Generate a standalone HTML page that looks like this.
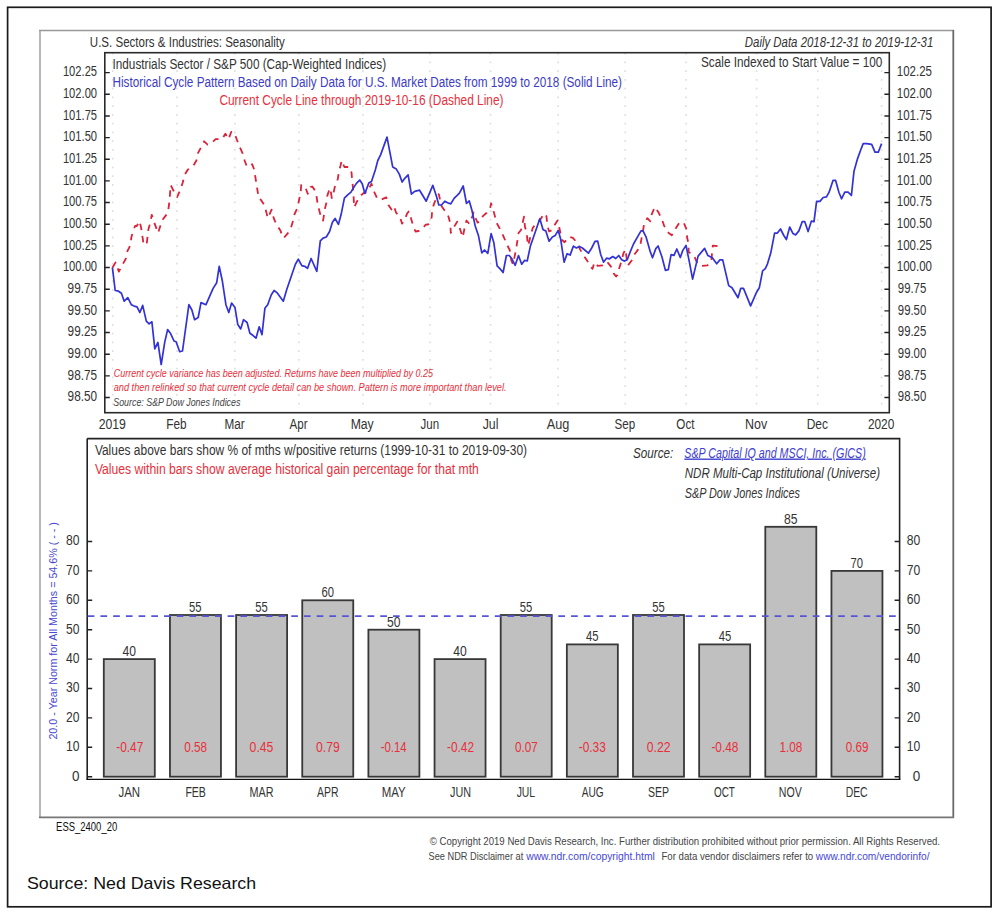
<!DOCTYPE html>
<html><head><meta charset="utf-8"><style>
html,body{margin:0;padding:0;background:#fff;}
svg{display:block;}
text{font-family:"Liberation Sans", sans-serif;}
</style></head><body>
<svg width="1002" height="914" viewBox="0 0 1002 914">
<rect width="1002" height="914" fill="#fff"/>
<rect x="7.6" y="7.3" width="983.5" height="899.5" fill="none" stroke="#1a1a1a" stroke-width="1.7"/>
<line x1="40" y1="30" x2="40" y2="818" stroke="#b8b8b8" stroke-width="2"/>
<line x1="39" y1="30.6" x2="954" y2="30.6" stroke="#999" stroke-width="1.5"/>
<line x1="953.3" y1="30" x2="953.3" y2="818" stroke="#6a6a6a" stroke-width="1.8"/>
<line x1="39" y1="817.4" x2="954" y2="817.4" stroke="#777" stroke-width="1.8"/>
<line x1="112.7" y1="52.8" x2="112.7" y2="411" stroke="#dedede" stroke-width="1.6" stroke-dasharray="1.6 7.15"/>
<line x1="177.0" y1="52.8" x2="177.0" y2="411" stroke="#dedede" stroke-width="1.6" stroke-dasharray="1.6 7.15"/>
<line x1="234.8" y1="52.8" x2="234.8" y2="411" stroke="#dedede" stroke-width="1.6" stroke-dasharray="1.6 7.15"/>
<line x1="298.8" y1="52.8" x2="298.8" y2="411" stroke="#dedede" stroke-width="1.6" stroke-dasharray="1.6 7.15"/>
<line x1="362.9" y1="52.8" x2="362.9" y2="411" stroke="#dedede" stroke-width="1.6" stroke-dasharray="1.6 7.15"/>
<line x1="430.0" y1="52.8" x2="430.0" y2="411" stroke="#dedede" stroke-width="1.6" stroke-dasharray="1.6 7.15"/>
<line x1="490.6" y1="52.8" x2="490.6" y2="411" stroke="#dedede" stroke-width="1.6" stroke-dasharray="1.6 7.15"/>
<line x1="558.1" y1="52.8" x2="558.1" y2="411" stroke="#dedede" stroke-width="1.6" stroke-dasharray="1.6 7.15"/>
<line x1="625.2" y1="52.8" x2="625.2" y2="411" stroke="#dedede" stroke-width="1.6" stroke-dasharray="1.6 7.15"/>
<line x1="686.0" y1="52.8" x2="686.0" y2="411" stroke="#dedede" stroke-width="1.6" stroke-dasharray="1.6 7.15"/>
<line x1="756.6" y1="52.8" x2="756.6" y2="411" stroke="#dedede" stroke-width="1.6" stroke-dasharray="1.6 7.15"/>
<line x1="817.7" y1="52.8" x2="817.7" y2="411" stroke="#dedede" stroke-width="1.6" stroke-dasharray="1.6 7.15"/>
<line x1="881.6" y1="52.8" x2="881.6" y2="411" stroke="#dedede" stroke-width="1.6" stroke-dasharray="1.6 7.15"/>
<rect x="104.8" y="52.7" width="784.5" height="360.0" fill="none" stroke="#2a2a2a" stroke-width="1.6"/>
<path d="M104.9 72.61H109.8M889.3 72.61H884.4M104.9 94.27H109.8M889.3 94.27H884.4M104.9 115.93H109.8M889.3 115.93H884.4M104.9 137.59H109.8M889.3 137.59H884.4M104.9 159.25H109.8M889.3 159.25H884.4M104.9 180.91H109.8M889.3 180.91H884.4M104.9 202.57H109.8M889.3 202.57H884.4M104.9 224.23H109.8M889.3 224.23H884.4M104.9 245.89H109.8M889.3 245.89H884.4M104.9 267.55H109.8M889.3 267.55H884.4M104.9 289.21H109.8M889.3 289.21H884.4M104.9 310.87H109.8M889.3 310.87H884.4M104.9 332.53H109.8M889.3 332.53H884.4M104.9 354.19H109.8M889.3 354.19H884.4M104.9 375.85H109.8M889.3 375.85H884.4M104.9 397.51H109.8M889.3 397.51H884.4" stroke="#222" stroke-width="1.4" fill="none"/>
<polyline points="112.4,267.7 115.6,262.4 118.9,271.6 123.0,263.7 125.8,258.8 127.4,251.1 130.7,244.6 131.3,237.4 133.4,230.3 135.1,226.0 136.7,226.0 137.8,224.3 139.5,221.0 141.1,227.6 143.3,242.4 146.6,245.1 148.2,230.3 149.9,223.8 151.8,214.8 153.1,219.4 158.1,233.1 160.3,226.0 162.4,220.0 165.7,215.6 167.9,212.8 169.6,200.2 170.6,184.9 174.5,192.6 177.2,197.0 180.5,189.3 182.7,182.7 184.4,175.3 187.7,169.8 193.4,165.6 196.4,160.5 198.1,152.8 201.3,146.8 204.1,141.3 207.6,144.6 211.7,143.0 215.6,139.1 222.1,139.1 225.4,133.7 228.5,139.3 231.3,131.8 234.2,132.6 236.9,139.7 239.6,146.8 242.4,152.8 244.6,160.5 246.9,166.8 252.2,164.3 254.4,170.3 255.5,178.0 257.1,188.0 258.8,198.8 261.0,199.9 264.2,204.8 266.4,212.4 267.7,218.2 269.2,215.2 271.6,209.6 273.8,218.4 276.6,224.9 280.4,230.4 282.6,237.0 283.7,238.0 287.5,233.7 290.8,228.2 293.0,221.1 294.6,214.0 297.4,208.0 299.0,200.3 300.6,193.2 301.2,185.0 303.5,185.8 305.6,187.7 307.7,193.8 310.5,187.2 312.2,186.5 314.3,189.4 316.5,196.0 317.6,203.6 319.2,210.2 321.4,218.4 323.1,220.6 324.7,209.6 326.3,203.1 327.4,195.4 329.6,188.8 330.3,188.3 331.8,198.1 333.5,193.2 335.1,185.6 337.8,179.0 338.9,171.9 340.6,165.3 341.7,160.4 344.4,167.0 349.3,167.0 351.5,172.4 352.3,181.7 353.2,190.0 354.2,207.4 357.0,201.4 361.1,195.2 364.4,192.4 366.5,192.5 369.3,188.1 371.5,183.7 374.2,191.9 377.0,197.9 379.0,199.8 381.3,199.5 386.3,197.4 388.4,205.0 391.5,209.6 393.9,206.1 396.1,212.7 399.9,217.0 402.1,223.6 404.3,220.3 407.0,213.8 408.7,211.4 410.9,218.1 413.1,225.8 415.5,231.5 418.5,231.0 421.8,229.6 425.6,224.7 428.0,224.5 430.0,223.6 431.7,217.0 432.2,209.4 434.4,202.8 437.1,196.3 438.8,194.1 441.5,206.1 444.2,209.9 446.5,212.0 448.6,217.0 450.3,223.6 450.8,232.9 453.5,227.4 455.5,224.5 457.2,221.6 459.4,227.0 462.7,237.4 464.8,227.0 466.5,220.5 469.2,223.8 472.5,216.1 473.6,212.3 475.2,217.2 477.5,222.5 479.6,222.1 482.9,216.1 486.7,212.8 490.0,209.0 491.1,203.5 493.3,210.1 495.5,218.3 497.1,223.8 501.0,230.9 503.7,236.9 507.0,244.6 509.7,250.0 511.3,260.4 513.0,264.2 514.6,256.6 516.3,248.0 517.9,237.4 518.5,233.0 521.0,230.0 524.0,216.7 525.0,227.0 526.7,232.5 527.5,241.3 528.3,245.6 530.5,236.0 532.7,228.1 534.9,224.9 540.0,220.0 544.2,213.4 546.4,216.1 547.5,226.0 549.1,231.4 551.8,230.3 554.0,226.0 557.5,220.5 558.9,225.4 561.7,239.7 564.6,242.2 568.8,236.8 572.9,237.9 577.2,242.8 580.2,249.6 583.5,255.4 587.4,261.1 590.6,266.6 592.5,268.8 594.5,262.2 597.7,265.8 602.6,265.4 607.2,261.8 610.8,266.4 613.8,273.6 616.1,276.5 617.4,274.9 619.4,267.7 621.7,260.5 623.3,253.6 625.6,249.3 626.9,260.5 627.9,265.4 631.5,260.8 633.8,255.2 637.7,250.1 640.4,244.8 641.9,236.3 642.7,232.5 644.2,223.3 647.3,218.2 650.3,221.4 651.8,214.1 654.9,206.9 658.4,212.2 661.8,219.1 664.1,225.6 667.5,232.1 671.8,235.2 676.0,227.9 679.4,222.6 681.7,221.8 684.0,223.3 686.7,229.8 687.1,237.5 688.6,244.0 688.6,252.0 694.0,255.5 697.5,263.8 700.8,266.0 707.4,265.4 711.2,261.6 712.8,245.7 718.3,246.3 720.5,247.9 722.1,246.3" fill="none" stroke="#dc2238" stroke-width="1.8" stroke-dasharray="6.5 6" stroke-linejoin="round"/>
<polyline points="112.4,267.7 115.2,290.5 118.5,291.2 121.4,293.3 124.2,301.2 127.8,297.6 131.3,304.7 134.2,306.1 137.0,306.9 139.9,312.5 142.7,305.4 146.3,321.1 149.1,323.9 151.9,321.8 154.8,348.8 157.9,342.4 161.2,364.5 164.7,342.4 167.6,329.6 170.4,333.2 174.0,341.0 176.1,341.7 179.7,351.7 182.5,351.0 188.9,304.7 191.8,309.7 194.6,319.7 198.2,317.5 201.0,302.6 206.0,304.7 213.1,288.4 216.7,282.7 219.2,266.3 222.4,281.3 225.9,304.7 228.8,312.5 231.6,303.0 235.0,307.6 237.8,324.6 240.7,328.9 243.5,319.7 247.1,322.5 249.9,333.2 252.8,335.3 256.0,338.2 259.2,326.8 262.0,334.6 264.9,308.3 267.7,304.7 271.3,294.8 274.1,290.5 276.9,292.6 283.3,301.2 286.9,289.1 295.4,264.2 298.3,259.2 301.8,265.6 304.7,266.3 307.5,268.4 311.1,258.5 316.8,271.3 320.3,240.8 323.1,238.1 326.3,237.0 329.6,231.5 332.4,222.2 335.1,218.4 338.4,224.4 341.1,214.6 344.4,198.1 347.7,194.9 351.0,192.1 353.2,188.3 356.4,183.4 359.7,180.1 362.2,183.7 364.9,193.5 368.8,183.1 371.5,181.5 375.3,170.0 377.8,160.5 380.6,154.9 387.0,137.1 392.7,166.9 396.3,169.1 399.4,174.4 402.1,182.0 404.8,178.3 408.1,174.9 411.4,194.1 414.7,191.3 419.6,190.2 426.2,201.2 432.8,185.3 436.6,196.8 438.8,205.0 441.5,205.0 444.8,201.2 447.5,202.8 450.8,203.9 454.1,198.4 457.4,195.2 459.4,193.1 463.2,186.0 466.5,203.5 469.2,200.8 472.0,210.6 475.2,226.0 478.5,235.8 481.8,252.8 484.5,250.0 487.8,253.3 491.1,233.6 493.8,242.4 497.1,265.9 499.9,268.6 503.1,272.5 506.4,255.5 509.2,255.5 511.9,258.8 515.2,265.3 518.5,255.5 521.7,264.2 524.5,260.4 527.2,261.0 530.5,245.6 533.2,238.0 539.8,218.8 543.1,229.8 545.8,230.9 549.1,241.3 552.4,236.9 555.3,235.4 558.2,230.4 560.6,238.7 564.1,262.2 567.1,253.7 570.1,255.1 573.4,246.1 576.4,248.0 579.4,246.6 582.4,248.0 588.4,253.2 591.7,248.0 595.0,241.4 597.7,241.1 600.7,254.5 603.6,262.1 606.6,258.2 609.5,258.8 612.8,256.5 615.8,258.5 618.7,255.5 621.7,259.8 624.6,261.1 627.2,259.8 630.2,251.9 633.5,244.0 637.4,237.1 641.0,230.9 643.0,230.9 646.0,236.8 649.9,250.6 652.5,257.8 655.8,248.6 658.1,246.0 661.9,256.8 665.4,270.3 668.3,269.6 671.1,254.7 674.0,255.4 676.8,249.0 680.3,257.5 682.7,250.6 686.0,245.4 689.3,261.6 692.6,279.1 698.1,256.1 704.6,248.4 707.9,255.6 712.3,257.7 716.7,263.8 719.9,259.9 722.7,259.9 728.7,285.6 732.0,287.8 738.0,297.7 740.7,288.4 743.5,288.4 750.6,305.9 756.6,292.2 759.3,287.8 762.6,270.9 765.3,268.7 767.5,263.8 770.8,252.8 774.6,233.1 777.4,233.1 780.5,229.0 783.8,235.5 786.4,239.5 789.7,227.0 793.0,233.6 795.6,234.9 798.9,230.9 802.2,221.7 804.8,221.7 808.1,231.6 811.4,221.1 814.0,221.7 816.6,201.4 819.9,201.4 823.2,197.5 826.5,196.8 829.1,192.2 833.0,180.4 835.6,180.4 838.9,192.2 841.5,198.8 844.8,192.2 848.1,192.2 851.4,195.5 854.0,171.2 857.3,159.4 860.6,150.2 863.2,143.6 866.5,143.6 871.7,144.3 875.0,152.2 878.3,152.2 881.6,143.6" fill="none" stroke="#3232d6" stroke-width="1.7" stroke-linejoin="round"/>
<path d="M87.2 438.6H899.6V779.4M87.2 438.6V779.4" fill="none" stroke="#222" stroke-width="1.6"/>
<line x1="86.4" y1="779.4" x2="900.4" y2="779.4" stroke="#111" stroke-width="1.3"/>
<path d="M87.2 776.70H92.2M899.6 776.70H894.6M87.2 747.30H92.2M899.6 747.30H894.6M87.2 717.90H92.2M899.6 717.90H894.6M87.2 688.50H92.2M899.6 688.50H894.6M87.2 659.10H92.2M899.6 659.10H894.6M87.2 629.70H92.2M899.6 629.70H894.6M87.2 600.30H92.2M899.6 600.30H894.6M87.2 570.90H92.2M899.6 570.90H894.6M87.2 541.50H92.2M899.6 541.50H894.6" stroke="#222" stroke-width="1.4" fill="none"/>
<rect x="103.80" y="659.10" width="51.00" height="117.60" fill="#c0c0c0" stroke="#383838" stroke-width="1.8"/>
<rect x="169.95" y="615.00" width="51.00" height="161.70" fill="#c0c0c0" stroke="#383838" stroke-width="1.8"/>
<rect x="236.10" y="615.00" width="51.00" height="161.70" fill="#c0c0c0" stroke="#383838" stroke-width="1.8"/>
<rect x="302.25" y="600.30" width="51.00" height="176.40" fill="#c0c0c0" stroke="#383838" stroke-width="1.8"/>
<rect x="368.40" y="629.70" width="51.00" height="147.00" fill="#c0c0c0" stroke="#383838" stroke-width="1.8"/>
<rect x="434.55" y="659.10" width="51.00" height="117.60" fill="#c0c0c0" stroke="#383838" stroke-width="1.8"/>
<rect x="500.70" y="615.00" width="51.00" height="161.70" fill="#c0c0c0" stroke="#383838" stroke-width="1.8"/>
<rect x="566.85" y="644.40" width="51.00" height="132.30" fill="#c0c0c0" stroke="#383838" stroke-width="1.8"/>
<rect x="633.00" y="615.00" width="51.00" height="161.70" fill="#c0c0c0" stroke="#383838" stroke-width="1.8"/>
<rect x="699.15" y="644.40" width="51.00" height="132.30" fill="#c0c0c0" stroke="#383838" stroke-width="1.8"/>
<rect x="765.30" y="526.80" width="51.00" height="249.90" fill="#c0c0c0" stroke="#383838" stroke-width="1.8"/>
<rect x="831.45" y="570.90" width="51.00" height="205.80" fill="#c0c0c0" stroke="#383838" stroke-width="1.8"/>
<line x1="87.7" y1="616.18" x2="899" y2="616.18" stroke="#5555d5" stroke-width="1.8" stroke-dasharray="6.7 6.02"/>
<text id="rot" transform="translate(56.6,739.6) rotate(-90)" x="0" y="0" font-size="11.2" fill="#4646d0" textLength="217.5" lengthAdjust="spacingAndGlyphs">20.0 - Year Norm for All Months = 54.6% ( - - )</text>
<text id="t1" x="89.80" y="46.60" font-size="14" font-style="normal" font-weight="400" fill="#333" textLength="195.00" lengthAdjust="spacingAndGlyphs">U.S. Sectors &amp; Industries: Seasonality</text>
<text id="t2" x="744.80" y="46.70" font-size="14" font-style="italic" font-weight="400" fill="#333" textLength="188.50" lengthAdjust="spacingAndGlyphs">Daily Data 2018-12-31 to 2019-12-31</text>
<text id="t3" x="112.50" y="68.60" font-size="14" font-style="normal" font-weight="400" fill="#333" textLength="273.60" lengthAdjust="spacingAndGlyphs">Industrials Sector / S&amp;P 500 (Cap-Weighted Indices)</text>
<text id="t4" x="112.50" y="86.80" font-size="14" font-style="normal" font-weight="400" fill="#3c3cc4" textLength="509.50" lengthAdjust="spacingAndGlyphs">Historical Cycle Pattern Based on Daily Data for U.S. Market Dates from 1999 to 2018 (Solid Line)</text>
<text id="t5" x="219.40" y="105.20" font-size="14" font-style="normal" font-weight="400" fill="#e8303c" textLength="284.10" lengthAdjust="spacingAndGlyphs">Current Cycle Line through 2019-10-16 (Dashed Line)</text>
<text id="t6" x="701.00" y="67.30" font-size="14" font-style="normal" font-weight="400" fill="#333" textLength="181.30" lengthAdjust="spacingAndGlyphs">Scale Indexed to Start Value = 100</text>
<text id="t7" x="113.70" y="376.60" font-size="10.3" font-style="italic" font-weight="400" fill="#e8303c" textLength="319.40" lengthAdjust="spacingAndGlyphs">Current cycle variance has been adjusted. Returns have been multiplied by 0.25</text>
<text id="t8" x="113.70" y="390.50" font-size="10.3" font-style="italic" font-weight="400" fill="#e8303c" textLength="392.90" lengthAdjust="spacingAndGlyphs">and then relinked so that current cycle detail can be shown. Pattern is more important than level.</text>
<text id="t9" x="113.30" y="406.20" font-size="10.3" font-style="italic" font-weight="400" fill="#444" textLength="127.10" lengthAdjust="spacingAndGlyphs">Source: S&amp;P Dow Jones Indices</text>
<text id="t10" x="94.90" y="454.70" font-size="14" font-style="normal" font-weight="400" fill="#333" textLength="432.20" lengthAdjust="spacingAndGlyphs">Values above bars show % of mths w/positive returns (1999-10-31 to 2019-09-30)</text>
<text id="t11" x="94.90" y="474.40" font-size="14" font-style="normal" font-weight="400" fill="#e8303c" textLength="383.90" lengthAdjust="spacingAndGlyphs">Values within bars show average historical gain percentage for that mth</text>
<text id="t12" x="633.00" y="458.30" font-size="14" font-style="italic" font-weight="400" fill="#333" textLength="40.30" lengthAdjust="spacingAndGlyphs">Source:</text>
<text id="t13" x="684.30" y="457.50" font-size="14" font-style="italic" font-weight="400" fill="#4040d0" textLength="181.50" lengthAdjust="spacingAndGlyphs" text-decoration="underline">S&amp;P Capital IQ and MSCI, Inc. (GICS)</text>
<text id="t14" x="684.80" y="477.90" font-size="14" font-style="italic" font-weight="400" fill="#333" textLength="195.30" lengthAdjust="spacingAndGlyphs">NDR Multi-Cap Institutional (Universe)</text>
<text id="t15" x="684.80" y="498.20" font-size="14" font-style="italic" font-weight="400" fill="#333" textLength="115.10" lengthAdjust="spacingAndGlyphs">S&amp;P Dow Jones Indices</text>
<text id="t16" x="56.10" y="830.60" font-size="12" font-style="normal" font-weight="400" fill="#111" textLength="61.10" lengthAdjust="spacingAndGlyphs">ESS_2400_20</text>
<text id="t17" x="429.80" y="845.30" font-size="11" font-style="normal" font-weight="400" fill="#444" textLength="510.20" lengthAdjust="spacingAndGlyphs">© Copyright 2019 Ned Davis Research, Inc. Further distribution prohibited without prior permission. All Rights Reserved.</text>
<text id="t18a" x="428.60" y="859.70" font-size="11" font-style="normal" font-weight="400" fill="#444" textLength="94.60" lengthAdjust="spacingAndGlyphs">See NDR Disclaimer at</text>
<text id="t18b" x="526.20" y="859.70" font-size="11" font-style="normal" font-weight="400" fill="#4848d8" textLength="128.60" lengthAdjust="spacingAndGlyphs">www.ndr.com/copyright.html</text>
<text id="t18c" x="661.50" y="859.70" font-size="11" font-style="normal" font-weight="400" fill="#444" textLength="151.70" lengthAdjust="spacingAndGlyphs">For data vendor disclaimers refer to</text>
<text id="t18d" x="815.80" y="859.70" font-size="11" font-style="normal" font-weight="400" fill="#4848d8" textLength="113.70" lengthAdjust="spacingAndGlyphs">www.ndr.com/vendorinfo/</text>
<text id="t19" x="27.00" y="889.20" font-size="16.5" font-style="normal" font-weight="400" fill="#111" textLength="229.10" lengthAdjust="spacingAndGlyphs">Source: Ned Davis Research</text>
<text id="yl0" x="62.90" y="76.41" font-size="14.5" font-style="normal" font-weight="400" fill="#333" textLength="34.20" lengthAdjust="spacingAndGlyphs">102.25</text>
<text id="yr0" x="896.80" y="76.41" font-size="14.5" font-style="normal" font-weight="400" fill="#333" textLength="35.20" lengthAdjust="spacingAndGlyphs">102.25</text>
<text id="yl1" x="62.90" y="98.07" font-size="14.5" font-style="normal" font-weight="400" fill="#333" textLength="34.20" lengthAdjust="spacingAndGlyphs">102.00</text>
<text id="yr1" x="896.80" y="98.07" font-size="14.5" font-style="normal" font-weight="400" fill="#333" textLength="35.20" lengthAdjust="spacingAndGlyphs">102.00</text>
<text id="yl2" x="62.90" y="119.73" font-size="14.5" font-style="normal" font-weight="400" fill="#333" textLength="34.20" lengthAdjust="spacingAndGlyphs">101.75</text>
<text id="yr2" x="896.80" y="119.73" font-size="14.5" font-style="normal" font-weight="400" fill="#333" textLength="35.20" lengthAdjust="spacingAndGlyphs">101.75</text>
<text id="yl3" x="62.90" y="141.39" font-size="14.5" font-style="normal" font-weight="400" fill="#333" textLength="34.20" lengthAdjust="spacingAndGlyphs">101.50</text>
<text id="yr3" x="896.80" y="141.39" font-size="14.5" font-style="normal" font-weight="400" fill="#333" textLength="35.20" lengthAdjust="spacingAndGlyphs">101.50</text>
<text id="yl4" x="62.90" y="163.05" font-size="14.5" font-style="normal" font-weight="400" fill="#333" textLength="34.20" lengthAdjust="spacingAndGlyphs">101.25</text>
<text id="yr4" x="896.80" y="163.05" font-size="14.5" font-style="normal" font-weight="400" fill="#333" textLength="35.20" lengthAdjust="spacingAndGlyphs">101.25</text>
<text id="yl5" x="62.90" y="184.71" font-size="14.5" font-style="normal" font-weight="400" fill="#333" textLength="34.20" lengthAdjust="spacingAndGlyphs">101.00</text>
<text id="yr5" x="896.80" y="184.71" font-size="14.5" font-style="normal" font-weight="400" fill="#333" textLength="35.20" lengthAdjust="spacingAndGlyphs">101.00</text>
<text id="yl6" x="62.90" y="206.37" font-size="14.5" font-style="normal" font-weight="400" fill="#333" textLength="34.20" lengthAdjust="spacingAndGlyphs">100.75</text>
<text id="yr6" x="896.80" y="206.37" font-size="14.5" font-style="normal" font-weight="400" fill="#333" textLength="35.20" lengthAdjust="spacingAndGlyphs">100.75</text>
<text id="yl7" x="62.90" y="228.03" font-size="14.5" font-style="normal" font-weight="400" fill="#333" textLength="34.20" lengthAdjust="spacingAndGlyphs">100.50</text>
<text id="yr7" x="896.80" y="228.03" font-size="14.5" font-style="normal" font-weight="400" fill="#333" textLength="35.20" lengthAdjust="spacingAndGlyphs">100.50</text>
<text id="yl8" x="62.90" y="249.69" font-size="14.5" font-style="normal" font-weight="400" fill="#333" textLength="34.20" lengthAdjust="spacingAndGlyphs">100.25</text>
<text id="yr8" x="896.80" y="249.69" font-size="14.5" font-style="normal" font-weight="400" fill="#333" textLength="35.20" lengthAdjust="spacingAndGlyphs">100.25</text>
<text id="yl9" x="62.90" y="271.35" font-size="14.5" font-style="normal" font-weight="400" fill="#333" textLength="34.20" lengthAdjust="spacingAndGlyphs">100.00</text>
<text id="yr9" x="896.80" y="271.35" font-size="14.5" font-style="normal" font-weight="400" fill="#333" textLength="35.20" lengthAdjust="spacingAndGlyphs">100.00</text>
<text id="yl10" x="67.60" y="293.01" font-size="14.5" font-style="normal" font-weight="400" fill="#333" textLength="29.50" lengthAdjust="spacingAndGlyphs">99.75</text>
<text id="yr10" x="897.80" y="293.01" font-size="14.5" font-style="normal" font-weight="400" fill="#333" textLength="28.50" lengthAdjust="spacingAndGlyphs">99.75</text>
<text id="yl11" x="67.60" y="314.67" font-size="14.5" font-style="normal" font-weight="400" fill="#333" textLength="29.50" lengthAdjust="spacingAndGlyphs">99.50</text>
<text id="yr11" x="897.80" y="314.67" font-size="14.5" font-style="normal" font-weight="400" fill="#333" textLength="28.50" lengthAdjust="spacingAndGlyphs">99.50</text>
<text id="yl12" x="67.60" y="336.33" font-size="14.5" font-style="normal" font-weight="400" fill="#333" textLength="29.50" lengthAdjust="spacingAndGlyphs">99.25</text>
<text id="yr12" x="897.80" y="336.33" font-size="14.5" font-style="normal" font-weight="400" fill="#333" textLength="28.50" lengthAdjust="spacingAndGlyphs">99.25</text>
<text id="yl13" x="67.60" y="357.99" font-size="14.5" font-style="normal" font-weight="400" fill="#333" textLength="29.50" lengthAdjust="spacingAndGlyphs">99.00</text>
<text id="yr13" x="897.80" y="357.99" font-size="14.5" font-style="normal" font-weight="400" fill="#333" textLength="28.50" lengthAdjust="spacingAndGlyphs">99.00</text>
<text id="yl14" x="67.60" y="379.65" font-size="14.5" font-style="normal" font-weight="400" fill="#333" textLength="29.50" lengthAdjust="spacingAndGlyphs">98.75</text>
<text id="yr14" x="897.80" y="379.65" font-size="14.5" font-style="normal" font-weight="400" fill="#333" textLength="28.50" lengthAdjust="spacingAndGlyphs">98.75</text>
<text id="yl15" x="67.60" y="401.31" font-size="14.5" font-style="normal" font-weight="400" fill="#333" textLength="29.50" lengthAdjust="spacingAndGlyphs">98.50</text>
<text id="yr15" x="897.80" y="401.31" font-size="14.5" font-style="normal" font-weight="400" fill="#333" textLength="28.50" lengthAdjust="spacingAndGlyphs">98.50</text>
<text id="xm0" x="98.65" y="429.40" font-size="14" font-style="normal" font-weight="400" fill="#333" textLength="27.30" lengthAdjust="spacingAndGlyphs">2019</text>
<text id="xm1" x="166.25" y="429.40" font-size="14" font-style="normal" font-weight="400" fill="#333" textLength="20.30" lengthAdjust="spacingAndGlyphs">Feb</text>
<text id="xm2" x="224.40" y="429.40" font-size="14" font-style="normal" font-weight="400" fill="#333" textLength="20.20" lengthAdjust="spacingAndGlyphs">Mar</text>
<text id="xm3" x="289.50" y="429.40" font-size="14" font-style="normal" font-weight="400" fill="#333" textLength="18.00" lengthAdjust="spacingAndGlyphs">Apr</text>
<text id="xm4" x="350.65" y="429.40" font-size="14" font-style="normal" font-weight="400" fill="#333" textLength="23.10" lengthAdjust="spacingAndGlyphs">May</text>
<text id="xm5" x="420.60" y="429.40" font-size="14" font-style="normal" font-weight="400" fill="#333" textLength="18.60" lengthAdjust="spacingAndGlyphs">Jun</text>
<text id="xm6" x="482.70" y="429.40" font-size="14" font-style="normal" font-weight="400" fill="#333" textLength="15.80" lengthAdjust="spacingAndGlyphs">Jul</text>
<text id="xm7" x="546.80" y="429.40" font-size="14" font-style="normal" font-weight="400" fill="#333" textLength="22.60" lengthAdjust="spacingAndGlyphs">Aug</text>
<text id="xm8" x="614.50" y="429.40" font-size="14" font-style="normal" font-weight="400" fill="#333" textLength="20.60" lengthAdjust="spacingAndGlyphs">Sep</text>
<text id="xm9" x="676.35" y="429.40" font-size="14" font-style="normal" font-weight="400" fill="#333" textLength="18.10" lengthAdjust="spacingAndGlyphs">Oct</text>
<text id="xm10" x="745.00" y="429.40" font-size="14" font-style="normal" font-weight="400" fill="#333" textLength="22.20" lengthAdjust="spacingAndGlyphs">Nov</text>
<text id="xm11" x="806.65" y="429.40" font-size="14" font-style="normal" font-weight="400" fill="#333" textLength="21.30" lengthAdjust="spacingAndGlyphs">Dec</text>
<text id="xm12" x="867.90" y="429.40" font-size="14" font-style="normal" font-weight="400" fill="#333" textLength="26.40" lengthAdjust="spacingAndGlyphs">2020</text>
<text id="bv0" x="122.55" y="655.90" font-size="14" font-style="normal" font-weight="400" fill="#333" textLength="13.50" lengthAdjust="spacingAndGlyphs">40</text>
<text id="bg0" x="116.25" y="751.60" font-size="14" font-style="normal" font-weight="400" fill="#e8303c" textLength="27.10" lengthAdjust="spacingAndGlyphs">-0.47</text>
<text id="bm0" x="118.45" y="797.40" font-size="14" font-style="normal" font-weight="400" fill="#333" textLength="21.70" lengthAdjust="spacingAndGlyphs">JAN</text>
<text id="bv1" x="188.90" y="611.80" font-size="14" font-style="normal" font-weight="400" fill="#333" textLength="12.50" lengthAdjust="spacingAndGlyphs">55</text>
<text id="bg1" x="184.25" y="751.60" font-size="14" font-style="normal" font-weight="400" fill="#e8303c" textLength="22.80" lengthAdjust="spacingAndGlyphs">0.58</text>
<text id="bm1" x="185.40" y="797.40" font-size="14" font-style="normal" font-weight="400" fill="#333" textLength="20.50" lengthAdjust="spacingAndGlyphs">FEB</text>
<text id="bv2" x="255.25" y="611.80" font-size="14" font-style="normal" font-weight="400" fill="#333" textLength="12.50" lengthAdjust="spacingAndGlyphs">55</text>
<text id="bg2" x="249.60" y="751.60" font-size="14" font-style="normal" font-weight="400" fill="#e8303c" textLength="23.80" lengthAdjust="spacingAndGlyphs">0.45</text>
<text id="bm2" x="249.50" y="797.40" font-size="14" font-style="normal" font-weight="400" fill="#333" textLength="24.00" lengthAdjust="spacingAndGlyphs">MAR</text>
<text id="bv3" x="321.60" y="597.10" font-size="14" font-style="normal" font-weight="400" fill="#333" textLength="12.50" lengthAdjust="spacingAndGlyphs">60</text>
<text id="bg3" x="315.95" y="751.60" font-size="14" font-style="normal" font-weight="400" fill="#e8303c" textLength="23.80" lengthAdjust="spacingAndGlyphs">0.79</text>
<text id="bm3" x="317.10" y="797.40" font-size="14" font-style="normal" font-weight="400" fill="#333" textLength="21.50" lengthAdjust="spacingAndGlyphs">APR</text>
<text id="bv4" x="386.95" y="626.50" font-size="14" font-style="normal" font-weight="400" fill="#333" textLength="13.50" lengthAdjust="spacingAndGlyphs">50</text>
<text id="bg4" x="380.65" y="751.60" font-size="14" font-style="normal" font-weight="400" fill="#e8303c" textLength="26.10" lengthAdjust="spacingAndGlyphs">-0.14</text>
<text id="bm4" x="381.70" y="797.40" font-size="14" font-style="normal" font-weight="400" fill="#333" textLength="24.00" lengthAdjust="spacingAndGlyphs">MAY</text>
<text id="bv5" x="453.30" y="655.90" font-size="14" font-style="normal" font-weight="400" fill="#333" textLength="13.50" lengthAdjust="spacingAndGlyphs">40</text>
<text id="bg5" x="447.00" y="751.60" font-size="14" font-style="normal" font-weight="400" fill="#e8303c" textLength="27.10" lengthAdjust="spacingAndGlyphs">-0.42</text>
<text id="bm5" x="450.05" y="797.40" font-size="14" font-style="normal" font-weight="400" fill="#333" textLength="21.00" lengthAdjust="spacingAndGlyphs">JUN</text>
<text id="bv6" x="519.65" y="611.80" font-size="14" font-style="normal" font-weight="400" fill="#333" textLength="12.50" lengthAdjust="spacingAndGlyphs">55</text>
<text id="bg6" x="515.00" y="751.60" font-size="14" font-style="normal" font-weight="400" fill="#e8303c" textLength="22.80" lengthAdjust="spacingAndGlyphs">0.07</text>
<text id="bm6" x="516.65" y="797.40" font-size="14" font-style="normal" font-weight="400" fill="#333" textLength="18.50" lengthAdjust="spacingAndGlyphs">JUL</text>
<text id="bv7" x="586.00" y="641.20" font-size="14" font-style="normal" font-weight="400" fill="#333" textLength="12.50" lengthAdjust="spacingAndGlyphs">45</text>
<text id="bg7" x="578.70" y="751.60" font-size="14" font-style="normal" font-weight="400" fill="#e8303c" textLength="27.10" lengthAdjust="spacingAndGlyphs">-0.33</text>
<text id="bm7" x="581.75" y="797.40" font-size="14" font-style="normal" font-weight="400" fill="#333" textLength="22.00" lengthAdjust="spacingAndGlyphs">AUG</text>
<text id="bv8" x="652.35" y="611.80" font-size="14" font-style="normal" font-weight="400" fill="#333" textLength="12.50" lengthAdjust="spacingAndGlyphs">55</text>
<text id="bg8" x="646.70" y="751.60" font-size="14" font-style="normal" font-weight="400" fill="#e8303c" textLength="23.80" lengthAdjust="spacingAndGlyphs">0.22</text>
<text id="bm8" x="648.10" y="797.40" font-size="14" font-style="normal" font-weight="400" fill="#333" textLength="21.00" lengthAdjust="spacingAndGlyphs">SEP</text>
<text id="bv9" x="718.70" y="641.20" font-size="14" font-style="normal" font-weight="400" fill="#333" textLength="12.50" lengthAdjust="spacingAndGlyphs">45</text>
<text id="bg9" x="711.40" y="751.60" font-size="14" font-style="normal" font-weight="400" fill="#e8303c" textLength="27.10" lengthAdjust="spacingAndGlyphs">-0.48</text>
<text id="bm9" x="713.95" y="797.40" font-size="14" font-style="normal" font-weight="400" fill="#333" textLength="21.00" lengthAdjust="spacingAndGlyphs">OCT</text>
<text id="bv10" x="784.05" y="523.60" font-size="14" font-style="normal" font-weight="400" fill="#333" textLength="13.50" lengthAdjust="spacingAndGlyphs">85</text>
<text id="bg10" x="779.40" y="751.60" font-size="14" font-style="normal" font-weight="400" fill="#e8303c" textLength="22.80" lengthAdjust="spacingAndGlyphs">1.08</text>
<text id="bm10" x="778.80" y="797.40" font-size="14" font-style="normal" font-weight="400" fill="#333" textLength="23.00" lengthAdjust="spacingAndGlyphs">NOV</text>
<text id="bv11" x="850.40" y="567.70" font-size="14" font-style="normal" font-weight="400" fill="#333" textLength="12.50" lengthAdjust="spacingAndGlyphs">70</text>
<text id="bg11" x="845.75" y="751.60" font-size="14" font-style="normal" font-weight="400" fill="#e8303c" textLength="22.80" lengthAdjust="spacingAndGlyphs">0.69</text>
<text id="bm11" x="845.65" y="797.40" font-size="14" font-style="normal" font-weight="400" fill="#333" textLength="22.00" lengthAdjust="spacingAndGlyphs">DEC</text>
<text id="bl0" x="72.00" y="780.50" font-size="14" font-style="normal" font-weight="400" fill="#333" textLength="7.50" lengthAdjust="spacingAndGlyphs">0</text>
<text id="br0" x="912.70" y="780.50" font-size="14" font-style="normal" font-weight="400" fill="#333" textLength="7.50" lengthAdjust="spacingAndGlyphs">0</text>
<text id="bl1" x="66.00" y="751.10" font-size="14" font-style="normal" font-weight="400" fill="#333" textLength="13.50" lengthAdjust="spacingAndGlyphs">10</text>
<text id="br1" x="906.70" y="751.10" font-size="14" font-style="normal" font-weight="400" fill="#333" textLength="13.50" lengthAdjust="spacingAndGlyphs">10</text>
<text id="bl2" x="66.00" y="721.70" font-size="14" font-style="normal" font-weight="400" fill="#333" textLength="13.50" lengthAdjust="spacingAndGlyphs">20</text>
<text id="br2" x="906.70" y="721.70" font-size="14" font-style="normal" font-weight="400" fill="#333" textLength="13.50" lengthAdjust="spacingAndGlyphs">20</text>
<text id="bl3" x="66.00" y="692.30" font-size="14" font-style="normal" font-weight="400" fill="#333" textLength="13.50" lengthAdjust="spacingAndGlyphs">30</text>
<text id="br3" x="906.70" y="692.30" font-size="14" font-style="normal" font-weight="400" fill="#333" textLength="13.50" lengthAdjust="spacingAndGlyphs">30</text>
<text id="bl4" x="66.00" y="662.90" font-size="14" font-style="normal" font-weight="400" fill="#333" textLength="13.50" lengthAdjust="spacingAndGlyphs">40</text>
<text id="br4" x="906.70" y="662.90" font-size="14" font-style="normal" font-weight="400" fill="#333" textLength="13.50" lengthAdjust="spacingAndGlyphs">40</text>
<text id="bl5" x="66.00" y="633.50" font-size="14" font-style="normal" font-weight="400" fill="#333" textLength="13.50" lengthAdjust="spacingAndGlyphs">50</text>
<text id="br5" x="906.70" y="633.50" font-size="14" font-style="normal" font-weight="400" fill="#333" textLength="13.50" lengthAdjust="spacingAndGlyphs">50</text>
<text id="bl6" x="66.00" y="604.10" font-size="14" font-style="normal" font-weight="400" fill="#333" textLength="13.50" lengthAdjust="spacingAndGlyphs">60</text>
<text id="br6" x="906.70" y="604.10" font-size="14" font-style="normal" font-weight="400" fill="#333" textLength="13.50" lengthAdjust="spacingAndGlyphs">60</text>
<text id="bl7" x="66.00" y="574.70" font-size="14" font-style="normal" font-weight="400" fill="#333" textLength="13.50" lengthAdjust="spacingAndGlyphs">70</text>
<text id="br7" x="906.70" y="574.70" font-size="14" font-style="normal" font-weight="400" fill="#333" textLength="13.50" lengthAdjust="spacingAndGlyphs">70</text>
<text id="bl8" x="66.00" y="545.30" font-size="14" font-style="normal" font-weight="400" fill="#333" textLength="13.50" lengthAdjust="spacingAndGlyphs">80</text>
<text id="br8" x="906.70" y="545.30" font-size="14" font-style="normal" font-weight="400" fill="#333" textLength="13.50" lengthAdjust="spacingAndGlyphs">80</text>
</svg>
</body></html>
